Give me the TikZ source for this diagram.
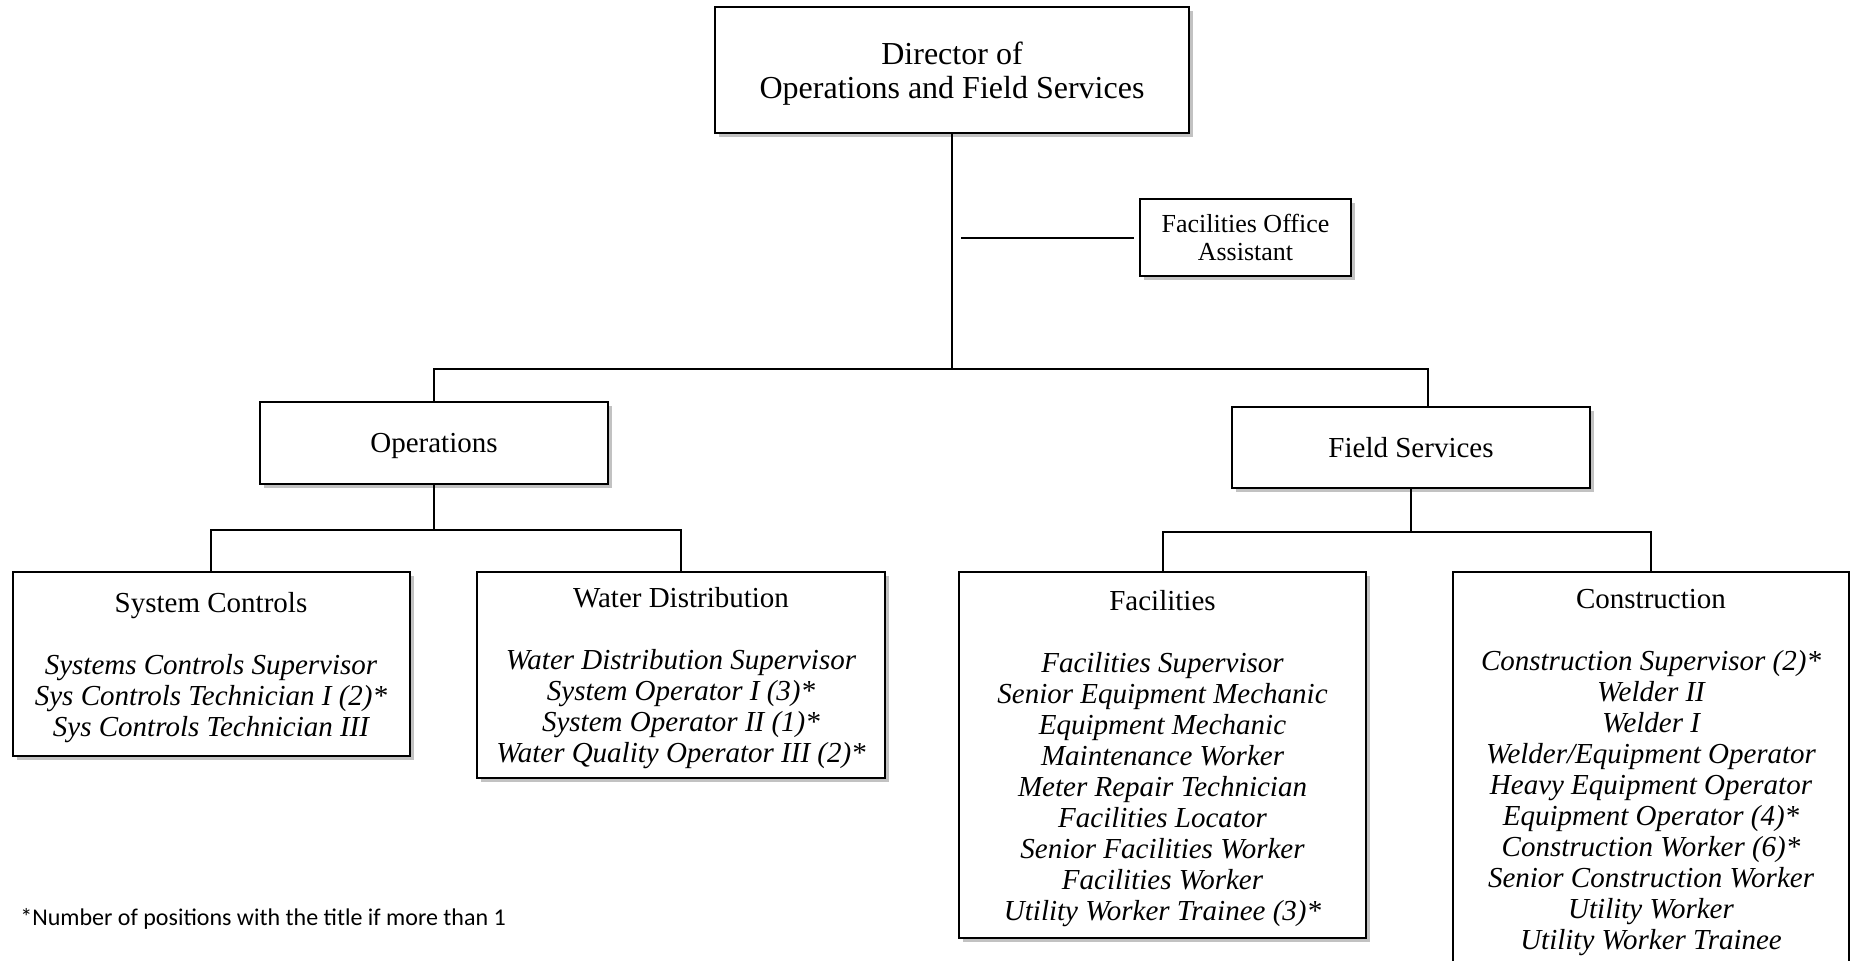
\documentclass[tikz,border=0pt]{standalone}
\usepackage{fontspec}
\setmainfont{Liberation Serif}
\newfontfamily\notefont{Carlito}
\usetikzlibrary{shadows}
\usetikzlibrary{positioning}

\tikzset{
  unit/.style={draw, line width=1pt, fill=white, inner sep=0pt, align=center, text depth=0pt,
    drop shadow={shadow xshift=2pt, shadow yshift=-2pt, fill=black!40, opacity=0.6}},
  team/.style={unit, anchor=north, font=\fontsize{14.5}{15.5}\selectfont},
  link/.style={line width=1pt}
}

\begin{document}
\begin{tikzpicture}[x=0.5pt,y=-0.5pt]
\useasboundingbox (0,0) rectangle (1850,960);
\node[unit, minimum width=237pt, minimum height=63pt, font=\fontsize{16}{17}\selectfont]
  (dir) at (952,70) {Director of\\Operations and Field Services};
\node[unit, minimum width=105.5pt, minimum height=38.5pt, font=\fontsize{13}{14}\selectfont]
  (asst) at (1245.5,237.5) {Facilities Office\\Assistant};
\node[unit, minimum width=174pt, minimum height=41pt, font=\fontsize{14.5}{15.5}\selectfont]
  (ops) at (434,443) {Operations};
\node[unit, minimum width=179pt, minimum height=40.5pt, font=\fontsize{14.5}{15.5}\selectfont]
  (fld) at (1411,447.5) {Field Services};
\node[team, minimum width=198.5pt, minimum height=92pt] (sysctl) at (211,571)
  {System Controls\\[15.5pt]
   \itshape Systems Controls Supervisor\\
   \itshape Sys Controls Technician I (2)*\\
   \itshape Sys Controls Technician III};
\node[team, minimum width=204pt, minimum height=103pt] (water) at (681,571)
  {Water Distribution\\[15.5pt]
   \itshape Water Distribution Supervisor\\
   \itshape System Operator I (3)*\\
   \itshape System Operator II (1)*\\
   \itshape Water Quality Operator III (2)*};
\node[team, minimum width=203.5pt, minimum height=183pt] (fac) at (1162.5,571)
  {Facilities\\[15.5pt]
   \itshape Facilities Supervisor\\
   \itshape Senior Equipment Mechanic\\
   \itshape Equipment Mechanic\\
   \itshape Maintenance Worker\\
   \itshape Meter Repair Technician\\
   \itshape Facilities Locator\\
   \itshape Senior Facilities Worker\\
   \itshape Facilities Worker\\
   \itshape Utility Worker Trainee (3)*};
\node[team, minimum width=198pt, minimum height=197pt] (cons) at (1651,571)
  {Construction\\[15.5pt]
   \itshape Construction Supervisor (2)*\\
   \itshape Welder II\\
   \itshape Welder I\\
   \itshape Welder/Equipment Operator\\
   \itshape Heavy Equipment Operator\\
   \itshape Equipment Operator (4)*\\
   \itshape Construction Worker (6)*\\
   \itshape Senior Construction Worker\\
   \itshape Utility Worker\\
   \itshape Utility Worker Trainee};
\node[anchor=west, inner sep=0pt, font=\notefont\fontsize{12}{14}\selectfont]
  (note) at (20,919) {*Number of positions with the title if more than 1};

\coordinate (split) at (dir.south |- 0,369);
\coordinate (fldtop) at ([xshift=8.5pt]fld.north);
\draw[link] (dir.south) -- (split);
\draw[link] ([xshift=4.5pt]dir.south |- asst.west) -- ([xshift=-2.5pt]asst.west);
\draw[link] (ops.north) -- (ops.north |- split) -- (fldtop |- split) -- (fldtop);
\draw[link] (ops.south) -- ++(0,45) -| (sysctl.north);
\draw[link] (ops.south) ++(0,45) -| (water.north);
\draw[link] (fld.south) -- ++(0,43) -| (fac.north);
\draw[link] (fld.south) ++(0,43) -| (cons.north);
\end{tikzpicture}
\end{document}
